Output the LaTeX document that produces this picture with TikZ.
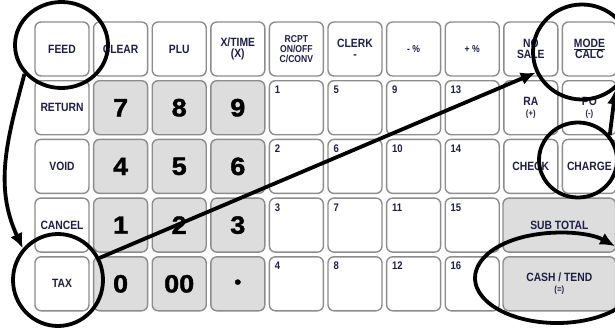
\documentclass[tikz,border=0pt]{standalone}
\usepackage{fontspec}
\setmainfont{Liberation Sans}
\newfontfamily\keyfont[FakeStretch=0.86]{Liberation Sans}
\newfontfamily\heavyfont[FakeBold=1.6, FakeStretch=1.08]{Liberation Sans Bold}
\usetikzlibrary{positioning, shapes.geometric, arrows.meta}
\definecolor{keyink}{RGB}{30,30,70}
\definecolor{keyrim}{RGB}{140,140,140}
\definecolor{keygray}{RGB}{221,221,221}

\begin{document}
\begin{tikzpicture}[x=1pt, y=1pt,
    keycap/.style={draw=keyrim, line width=1.4pt, rounded corners=6pt, minimum width=54pt, minimum height=54pt, fill=white, text=keyink, align=center, inner sep=1pt, font=\keyfont\bfseries\fontsize{12}{11}\selectfont},
    digitkey/.style={keycap, fill=keygray, text=black, font=\heavyfont\fontsize{25}{25}\selectfont},
    widekey/.style={keycap, fill=keygray, minimum width=112.6pt},
    keynum/.style={anchor=north west, inner sep=0pt, text=keyink, font=\keyfont\bfseries\fontsize{11}{11}\selectfont},
    ring/.style={draw=black, line width=3.8pt, ellipse, inner sep=0pt},
    hint/.style={line width=3.8pt, -{Latex[length=15pt,width=13pt]}}]
    \useasboundingbox (0,0) rectangle (615,-332);
    \clip (0,0) rectangle (615,-332);

    % left column
    \foreach \lab [count=\r from 0] in {FEED,RETURN,VOID,CANCEL,TAX}
        \node[keycap] (k0\r) at (62,{-(49+58.7*\r)}) {\lab};

    % top row
    \node[keycap] (k10) at ({62+58.6*1},-49) {CLEAR};
    \node[keycap] (k20) at ({62+58.6*2},-49) {PLU};
    \node[keycap] (k30) at ({62+58.6*3},-49) {X/TIME\\(X)};
    \node[keycap, font=\keyfont\bfseries\fontsize{10}{10}\selectfont] (k40) at ({62+58.6*4},-49) {RCPT\\ON/OFF\\C/CONV};
    \node[keycap] (k50) at ({62+58.6*5},-49) {CLERK\\-};
    \node[keycap, font=\keyfont\bfseries\fontsize{10}{10}\selectfont] (k60) at ({62+58.6*6},-49) {- \%};
    \node[keycap, font=\keyfont\bfseries\fontsize{10}{10}\selectfont] (k70) at ({62+58.6*7},-49) {+ \%};
    \node[keycap] (k80) at ({62+58.6*8},-49) {NO\\SALE};
    \node[keycap] (k90) at ({62+58.6*9},-49) {\underline{MODE}\\CALC};

    % digit keys
    \foreach \lab [count=\n from 0] in {7,8,9,4,5,6,1,2,3,0,00,{\fontsize{18}{18}\selectfont •}} {
        \pgfmathtruncatemacro{\c}{1+mod(\n,3)}
        \pgfmathtruncatemacro{\r}{1+div(\n,3)}
        \node[digitkey] (k\c\r) at ({62+58.6*\c},{-(49+58.7*\r)}) {\lab};
    }

    % numbered keys
    \foreach \c in {4,...,7}
        \foreach \r in {1,...,4} {
            \pgfmathtruncatemacro{\n}{(\c-4)*4+\r}
            \node[keycap] (k\c\r) at ({62+58.6*\c},{-(49+58.7*\r)}) {};
            \node[keynum] at ([xshift=6pt,yshift=-6pt]k\c\r.north west) {\n};
        }

    % right block
    \node[keycap] (k81) at ({62+58.6*8},{-(49+58.7)}) {RA\\{\fontsize{9}{9}\selectfont (+)}};
    \node[keycap] (k91) at ({62+58.6*9},{-(49+58.7)}) {PO\\{\fontsize{9}{9}\selectfont (-)}};
    \node[keycap] (k82) at ({62+58.6*8},{-(49+58.7*2)}) {CHECK};
    \node[keycap] (k92) at ({62+58.6*9},{-(49+58.7*2)}) {CHARGE};
    \node[widekey] (subtotal) at (559.3,{-(49+58.7*3)}) {SUB TOTAL};
    \node[widekey] (cashtend) at (559.3,{-(49+58.7*4)}) {CASH / TEND\\{\fontsize{9}{9}\selectfont (=)}};

    % rings
    \node[ring, minimum width=93pt, minimum height=86pt] (feedring) at (61.5,-45) {};
    \node[ring, minimum width=90pt, minimum height=92pt] (taxring) at (58,-280) {};
    \node[ring, minimum width=98pt, minimum height=95pt] (nosalering) at (582,-52) {};
    \node[ring, minimum width=78pt, minimum height=75pt] (chargering) at (578,-160) {};
    \coordinate (cashring) at (557,-278);

    % arrows
    \draw[hint] (feedring.218) to[out=255, in=115] (taxring.138);
    \draw[hint] (taxring.28) -- (nosalering.204);
    \draw[hint] (chargering.38) -- (nosalering.312);
    \draw[hint] ([shift={(30:82 and 45)}]cashring) arc[start angle=30, end angle=-315, x radius=82, y radius=45];
\end{tikzpicture}
\end{document}
